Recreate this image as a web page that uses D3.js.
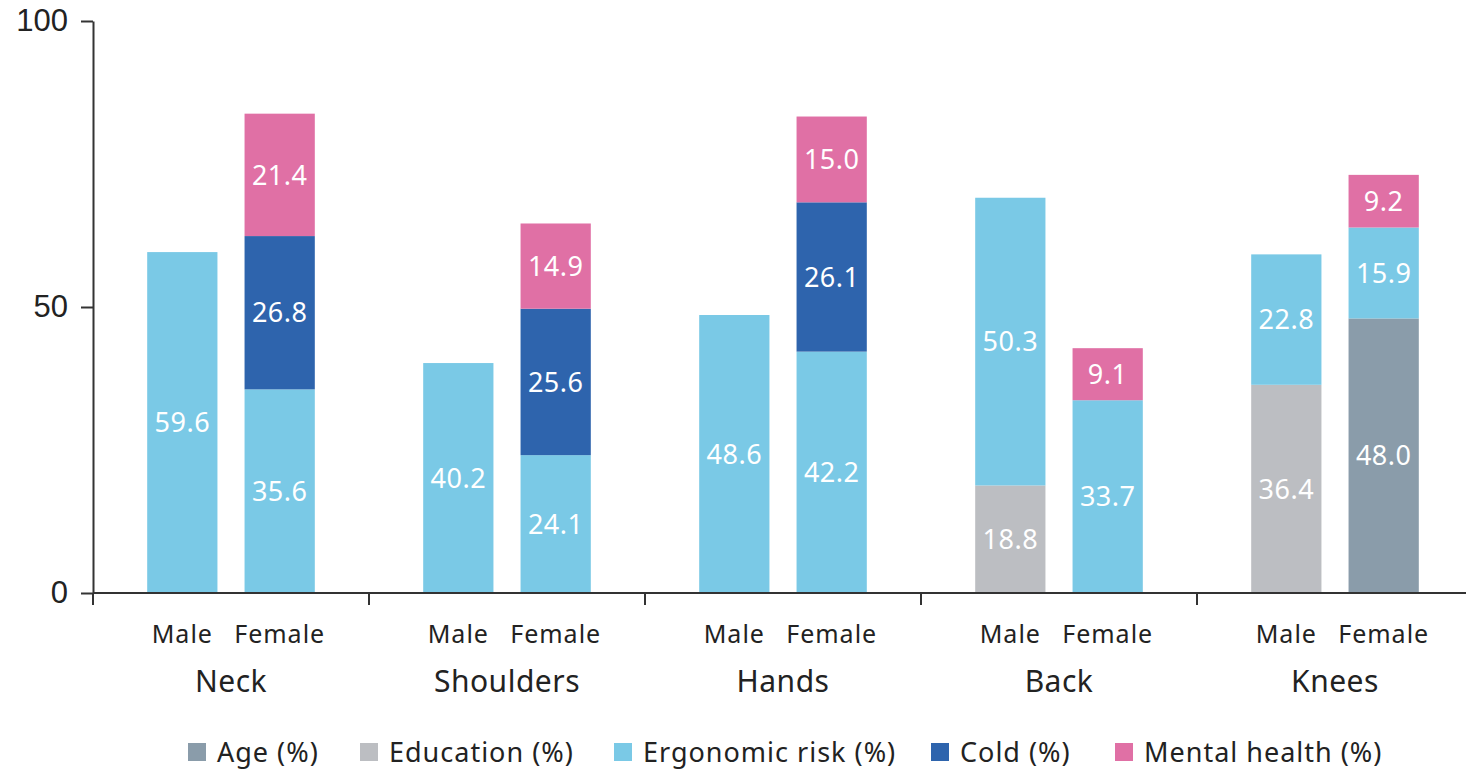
<!DOCTYPE html>
<html>
<head>
<meta charset="utf-8">
<script src="https://cdn.jsdelivr.net/npm/d3@7/dist/d3.min.js"></script>
<style>
  html, body { margin: 0; padding: 0; background: #fff; }
  svg { display: block; }
</style>
</head>
<body>
<svg id="chart" width="1466" height="770"></svg>
<script>
// Body regions and sexes
const regions = ["Neck", "Shoulders", "Hands", "Back", "Knees"];
const sexes = ["Male", "Female"];

// Factor series (stack order bottom to top)
const factors = ["Age (%)", "Education (%)", "Ergonomic risk (%)", "Cold (%)", "Mental health (%)"];
const factorColors = ["#8a9caa", "#bcbec2", "#7ac9e6", "#2e64ad", "#e070a5"];

// Values per bar: Neck M, Neck F, Shoulders M, Shoulders F, Hands M, Hands F, Back M, Back F, Knees M, Knees F
const ageValues       = [0, 0, 0, 0, 0, 0, 0, 0, 0, 48.0];
const educationValues = [0, 0, 0, 0, 0, 0, 18.8, 0, 36.4, 0];
const ergonomicValues = [59.6, 35.6, 40.2, 24.1, 48.6, 42.2, 50.3, 33.7, 22.8, 15.9];
const coldValues      = [0, 26.8, 0, 25.6, 0, 26.1, 0, 0, 0, 0];
const mentalValues    = [0, 21.4, 0, 14.9, 0, 15.0, 0, 9.1, 0, 9.2];

const yTicks = [0, 50, 100];

const series = [ageValues, educationValues, ergonomicValues, coldValues, mentalValues];

const rows = [];
regions.forEach((r, i) => {
  sexes.forEach((s, j) => {
    const k = i * 2 + j;
    const row = { region: r, sex: s };
    factors.forEach((f, fi) => { row[f] = series[fi][k]; });
    rows.push(row);
  });
});

const svg = d3.select("#chart");
const margin = { left: 93, right: 1473, top: 21, bottom: 593 };

const y = d3.scaleLinear().domain([0, 100]).range([margin.bottom, margin.top]);
const x0 = d3.scaleBand().domain(regions).range([margin.left, margin.right]).paddingInner(0).paddingOuter(0);
const x1 = d3.scaleBand().domain(sexes).range([0, x0.bandwidth()]).paddingInner(27 / 97).paddingOuter(54 / 97).align(0.5);

const stack = d3.stack().keys(factors);
const stacked = stack(rows);

const labelFont = "'Noto Sans', 'Open Sans', sans-serif";

// Bars
const layers = svg.append("g").selectAll("g")
  .data(stacked)
  .join("g")
  .attr("fill", (d, i) => factorColors[i]);

layers.selectAll("rect")
  .data(d => d.filter(p => p[1] - p[0] > 0))
  .join("rect")
  .attr("x", d => x0(d.data.region) + x1(d.data.sex))
  .attr("width", x1.bandwidth())
  .attr("y", d => y(d[1]))
  .attr("height", d => y(d[0]) - y(d[1]));

// Value labels inside segments
layers.selectAll("text")
  .data(d => d.filter(p => p[1] - p[0] > 0))
  .join("text")
  .attr("x", d => x0(d.data.region) + x1(d.data.sex) + x1.bandwidth() / 2)
  .attr("y", d => (y(d[0]) + y(d[1])) / 2)
  .attr("dy", "0.36em")
  .attr("text-anchor", "middle")
  .attr("fill", "#ffffff")
  .attr("font-family", labelFont)
  .attr("font-size", 27)
  .attr("letter-spacing", 0.5)
  .text(d => (d[1] - d[0]).toFixed(1));

// Y axis
const yAxis = d3.axisLeft(y).tickValues(yTicks).tickSize(12).tickSizeOuter(0).tickPadding(13);
const gy = svg.append("g").attr("transform", `translate(${margin.left},0)`).call(yAxis);
gy.select(".domain").attr("stroke", "#333").attr("stroke-width", 2);
gy.selectAll(".tick line").attr("stroke", "#333").attr("stroke-width", 2);
gy.selectAll(".tick text")
  .attr("font-family", "'Liberation Sans', Arial, sans-serif")
  .attr("font-size", 31)
  .attr("fill", "#222");

// X axis (region boundaries)
const gx = svg.append("g").attr("transform", `translate(0,${margin.bottom})`);
gx.append("line")
  .attr("x1", margin.left).attr("x2", margin.right)
  .attr("stroke", "#333").attr("stroke-width", 2);
gx.selectAll("line.tick")
  .data(regions)
  .join("line")
  .attr("class", "tick")
  .attr("x1", d => x0(d)).attr("x2", d => x0(d))
  .attr("y1", 0).attr("y2", 12)
  .attr("stroke", "#333").attr("stroke-width", 2);

// Sex and region labels
regions.forEach(r => {
  sexes.forEach(s => {
    gx.append("text")
      .attr("x", x0(r) + x1(s) + x1.bandwidth() / 2)
      .attr("y", 50)
      .attr("text-anchor", "middle")
      .attr("font-family", labelFont)
      .attr("font-size", 25)
      .attr("letter-spacing", 1)
      .attr("fill", "#222")
      .text(s);
  });
  gx.append("text")
    .attr("x", x0(r) + (x1("Male") + x1("Female") + x1.bandwidth()) / 2)
    .attr("y", 99)
    .attr("text-anchor", "middle")
    .attr("font-family", labelFont)
    .attr("font-size", 30)
    .attr("letter-spacing", 0.5)
    .attr("fill", "#222")
    .text(r);
});

// Legend
const legendX = [188, 360, 614, 931, 1115];
const legend = svg.append("g").attr("transform", "translate(0,743)");
factors.forEach((f, i) => {
  legend.append("rect")
    .attr("x", legendX[i]).attr("y", 0)
    .attr("width", 18).attr("height", 18)
    .attr("fill", factorColors[i]);
  legend.append("text")
    .attr("x", legendX[i] + 29).attr("y", 19)
    .attr("font-family", labelFont)
    .attr("font-size", 27)
    .attr("letter-spacing", 1)
    .attr("fill", "#222")
    .text(f);
});
</script>
</body>
</html>
